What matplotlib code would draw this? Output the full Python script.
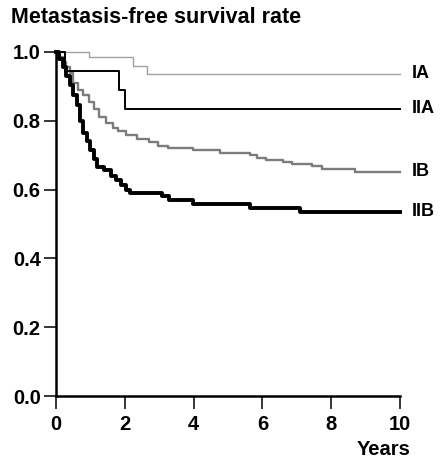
import matplotlib
matplotlib.use("Agg")
import matplotlib.pyplot as plt

plt.rcParams['font.family'] = ['Liberation Sans', 'DejaVu Sans']

# Kaplan-Meier step curves: event times (years) and survival after each step
ia_t = [0, 0.96, 2.25, 2.65, 10]
ia_s = [1.0, 0.985, 0.96, 0.937, 0.937]

iia_t = [0, 0.25, 1.83, 2.0, 10]
iia_s = [1.0, 0.945, 0.89, 0.835, 0.835]

ib_t = [0, 0.1, 0.2, 0.3, 0.4, 0.5, 0.65, 0.8, 0.95, 1.1, 1.25, 1.45, 1.65, 1.8,
        2.05, 2.35, 2.7, 2.97, 3.27, 3.98, 4.77, 5.64, 5.84, 6.1, 6.6, 6.86,
        7.44, 7.73, 8.69, 10]
ib_s = [1.0, 0.985, 0.97, 0.955, 0.94, 0.91, 0.89, 0.875, 0.855, 0.835, 0.81,
        0.795, 0.78, 0.77, 0.76, 0.748, 0.737, 0.728, 0.72, 0.715, 0.707, 0.70,
        0.692, 0.686, 0.68, 0.674, 0.668, 0.661, 0.652, 0.652]

iib_t = [0, 0.1, 0.2, 0.3, 0.4, 0.5, 0.6, 0.7, 0.8, 0.9, 1.0, 1.1, 1.2, 1.4,
         1.6, 1.75, 1.9, 2.05, 2.15, 3.08, 3.3, 3.98, 5.64, 7.1, 10]
iib_s = [1.0, 0.98, 0.955, 0.93, 0.905, 0.875, 0.845, 0.8, 0.765, 0.74, 0.715,
         0.69, 0.665, 0.657, 0.64, 0.628, 0.612, 0.6, 0.591, 0.58, 0.57, 0.558,
         0.547, 0.535, 0.535]

stage_labels = ["IA", "IIA", "IB", "IIB"]
x_ticks = [0, 2, 4, 6, 8, 10]
y_ticks = [0.0, 0.2, 0.4, 0.6, 0.8, 1.0]

fig = plt.figure(figsize=(4.44, 4.63), dpi=100)
ax = fig.add_axes([0.126, 0.1447, 0.775, 0.743])

ax.step(ia_t, ia_s, where="post", color="#a0a0a0", lw=1.0, clip_on=False)
ax.step(ib_t, ib_s, where="post", color="#7c7c7c", lw=1.7, clip_on=False)
ax.step(iia_t, iia_s, where="post", color="black", lw=1.4, clip_on=False)
ax.step(iib_t, iib_s, where="post", color="black", lw=2.8, clip_on=False)

# stage names sit just right of each curve's last value
ends = [ia_s[-1], iia_s[-1], ib_s[-1], iib_s[-1]]
for lab, yv in zip(stage_labels, ends):
    ax.text(10.35, yv, lab, fontsize=13, fontweight="bold", va="center", ha="left")

ax.set_xlim(0, 10)
ax.set_ylim(0, 1.0)
ax.set_xticks(x_ticks)
ax.set_yticks(y_ticks)
ax.set_xticklabels([str(v) for v in x_ticks])
ax.set_yticklabels([f"{v:.1f}" for v in y_ticks])
ax.tick_params(labelsize=14.5, width=1.1, length=9, direction="out", pad=2)
ax.tick_params(axis="x", pad=5)
for lbl in ax.get_xticklabels() + ax.get_yticklabels():
    lbl.set_fontweight("bold")

for side in ["top", "right"]:
    ax.spines[side].set_visible(False)
for side in ["left", "bottom"]:
    ax.spines[side].set_linewidth(1.8)

fig.text(0.025, 0.962, "Metastasis-free survival rate", fontsize=15.5,
         fontweight="bold", va="center", ha="left")
fig.text(0.924, 0.018, "Years", fontsize=14.5, fontweight="bold",
         va="baseline", ha="right")

fig.savefig("out.png", dpi=100)
